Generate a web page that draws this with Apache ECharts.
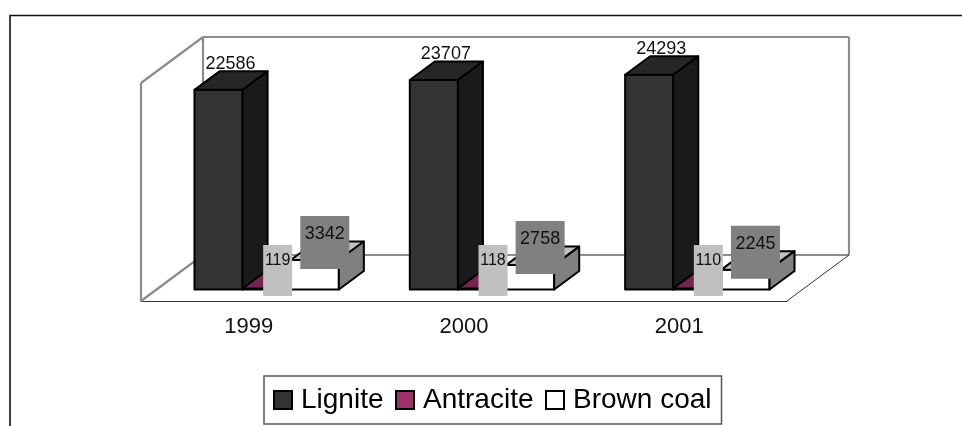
<!DOCTYPE html>
<html>
<head>
<meta charset="utf-8">
<style>
html,body{margin:0;padding:0;background:#fff;}
#chart{width:962px;height:426px;}
</style>
<script src="https://cdn.jsdelivr.net/npm/echarts@6/dist/echarts.min.js"></script>
</head>
<body>
<div id="chart"></div>
<script>
var categories = ['1999', '2000', '2001'];
var lignite = [22586, 23707, 24293];
var antracite = [119, 118, 110];
var brownCoal = [3342, 2758, 2245];

var FONT = '"Liberation Sans", Arial, sans-serif';
var DEPTH_X = 25, DEPTH_Y = 18.5;   // bar depth
var SHIFT_X = 18, SHIFT_Y = 11.5;   // bars stand back from the front edge of the floor
var BAR_RATIO = 0.2235;

function poly(points, fill, z2) {
    return {
        type: 'polygon',
        z2: z2,
        shape: {points: points},
        style: {fill: fill, stroke: '#000', lineWidth: 2, lineJoin: 'round'}
    };
}

function line(x1, y1, x2, y2, color, width) {
    return {
        type: 'line',
        shape: {x1: x1, y1: y1, x2: x2, y2: y2},
        style: {stroke: color, lineWidth: width}
    };
}

// the walls and the floor behind the bars
function renderWalls(params) {
    var c = params.coordSys;
    var l = c.x, b = c.y + c.height, r = c.x + c.width;
    var dx = 62, dy = 46, h = 218;
    return {
        type: 'group',
        children: [
            line(l, b, l, b - h, '#8c8c8c', 2.2),
            line(l, b - h, l + dx, b - h - dy, '#8c8c8c', 2.2),
            line(l + dx, b - h - dy, r + dx, b - h - dy, '#8c8c8c', 2.2),
            line(l + dx, b - h - dy, l + dx, b - dy, '#8c8c8c', 2.2),
            line(r + dx, b - h - dy, r + dx, b - dy, '#8c8c8c', 2.2),
            line(l, b, l + dx, b - dy, '#8c8c8c', 2.2),
            line(l + dx, b - dy, r + dx, b - dy, '#8c8c8c', 2.2),
            line(r, b, r + dx, b - dy, '#333', 1)
        ]
    };
}

function barRenderer(slot, colors, label) {
    return function (params, api) {
        var i = api.value(0), v = api.value(1);
        var top = api.coord([i, v]);
        var base = api.coord([i, 0]);
        var w = api.size([1, 0])[0] * BAR_RATIO;
        var x0 = top[0] + SHIFT_X + (slot - 0.5) * w;
        var x1 = x0 + w;
        var y0 = top[1] - SHIFT_Y;
        var y1 = base[1] - SHIFT_Y;
        var cx = (x0 + x1) / 2 + label.dx;
        var kids = [
            poly([[x0, y1], [x1, y1], [x1, y0], [x0, y0]], colors[0], 1),
            poly([[x0, y0], [x1, y0], [x1 + DEPTH_X, y0 - DEPTH_Y], [x0 + DEPTH_X, y0 - DEPTH_Y]], colors[1], 1),
            poly([[x1, y1], [x1 + DEPTH_X, y1 - DEPTH_Y], [x1 + DEPTH_X, y0 - DEPTH_Y], [x1, y0]], colors[2], 1)
        ];
        if (label.box) {
            kids.push({
                type: 'rect',
                z2: 50,
                shape: {x: cx - label.w / 2, y: y0 + label.top, width: label.w, height: label.h},
                style: {fill: label.box}
            });
        }
        kids.push({
            type: 'text',
            z2: 60,
            style: {
                text: String(v),
                x: cx,
                y: y0 + label.textY,
                align: 'center',
                verticalAlign: 'middle',
                fontSize: label.size,
                fontFamily: FONT,
                fill: '#111'
            }
        });
        return {type: 'group', children: kids};
    };
}

function pairs(values) {
    return values.map(function (v, i) { return [i, v]; });
}

function barSeries(name, values, slot, colors, label) {
    return {
        name: name,
        type: 'custom',
        silent: true,
        itemStyle: {color: colors[0]},
        encode: {x: 0, y: 1},
        data: pairs(values),
        renderItem: barRenderer(slot, colors, label)
    };
}

var option = {
    backgroundColor: '#fff',
    animation: false,
    textStyle: {fontFamily: FONT},
    legend: {
        left: 264,
        top: 376,
        padding: [10, 10, 10, 9],
        itemGap: 11.5,
        itemWidth: 18,
        itemHeight: 18,
        borderColor: '#555',
        borderWidth: 1.5,
        icon: 'rect',
        selectedMode: false,
        itemStyle: {borderColor: '#000', borderWidth: 2},
        textStyle: {fontSize: 28, fontFamily: FONT, color: '#000', padding: [0, 0, 0, 4]},
        data: ['Lignite', 'Antracite', 'Brown coal']
    },
    grid: {left: 141, top: 80, width: 646, height: 221},
    xAxis: {
        type: 'category',
        data: categories,
        axisLine: {lineStyle: {color: '#333', width: 1}},
        axisTick: {length: 6, lineStyle: {color: '#444', width: 1}},
        axisLabel: {fontSize: 22, fontFamily: FONT, color: '#111', margin: 15}
    },
    yAxis: {type: 'value', min: 0, max: 25000, show: false},
    series: [
        {
            name: 'walls',
            type: 'custom',
            silent: true,
            z: 1,
            encode: {x: 0, y: 1},
            data: [[0, 0]],
            renderItem: renderWalls
        },
        barSeries('Lignite', lignite, -1, ['#333333', '#262626', '#1a1a1a'],
            {dx: 12, textY: -25.5, size: 18}),
        barSeries('Antracite', antracite, 0, ['#993366', '#732650', '#4d1a33'],
            {dx: 11, top: -43.5, w: 29, h: 51, box: '#c0c0c0', textY: -28, size: 16}),
        barSeries('Brown coal', brownCoal, 1, ['#ffffff', '#c0c0c0', '#808080'],
            {dx: 10, top: -44, w: 49, h: 53, box: '#808080', textY: -26, size: 18})
    ],
    graphic: [{
        type: 'polyline',
        silent: true,
        shape: {points: [[10, 426], [10, 15.5], [962, 15.5]]},
        style: {fill: null, stroke: '#111', lineWidth: 1.6}
    }]
};

var myChart = echarts.init(document.getElementById('chart'));
myChart.setOption(option);
</script>
</body>
</html>
